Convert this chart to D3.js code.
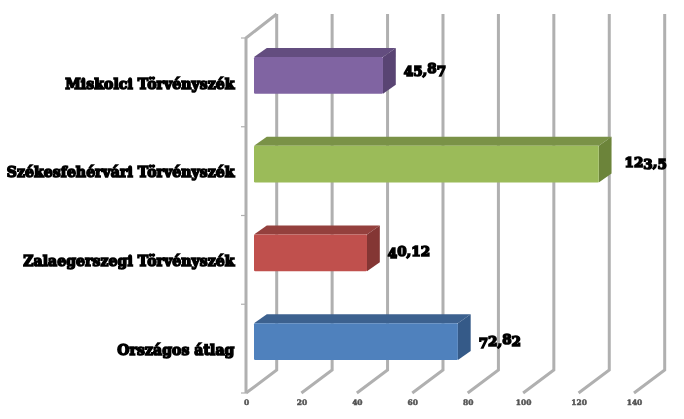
<!DOCTYPE html>
<html>
<head>
<meta charset="utf-8">
<script src="https://cdn.jsdelivr.net/npm/d3@7"></script>
<style>
  html, body { margin: 0; padding: 0; background: #fff; }
  svg { display: block; }
</style>
</head>
<body>
<div id="main"></div>
<script>
const categories = ['Országos átlag', 'Zalaegerszegi Törvényszék', 'Székesfehérvári Törvényszék', 'Miskolci Törvényszék']
const values = [72.82, 40.12, 123.5, 45.87]
const valueLabels = ['72,82', '40,12', '123,5', '45,87']
const tickValues = [0, 20, 40, 60, 80, 100, 120, 140]
const frontColors = ['#4f81bd', '#c0504d', '#9bbb59', '#8064a2']
const topColors = ['#3c618f', '#94403d', '#7a9247', '#634d7f']
const sideColors = ['#355a88', '#843634', '#6c843a', '#594473']

const WIDTH = 684, HEIGHT = 419
const DEPTH_X = 30.7                 // wall depth
const BAR_DX = 12.8, BAR_DY = 9      // bar depth
const BAR_H = 36.6, BAR_SHIFT = -7

const svg = d3.select('#main').append('svg').attr('width', WIDTH).attr('height', HEIGHT)
  .style('font-family', '"DejaVu Serif", serif')

const defs = svg.append('defs')
const soft = defs.append('filter').attr('id', 'soft').attr('x', '-5%').attr('y', '-20%').attr('width', '110%').attr('height', '140%')
soft.append('feGaussianBlur').attr('stdDeviation', 0.4)

const x = d3.scaleLinear().domain([0, 140]).range([246, 634])
const barX = d3.scaleLinear().domain([0, 140]).range([255.5, 644.6])
const y = d3.scaleBand().domain(categories.slice().reverse()).range([38, 393])

// walls
const walls = svg.append('g').attr('fill', 'none').attr('stroke', '#b0b0b0').attr('stroke-width', 3)
walls.selectAll('path.grid').data(tickValues).join('path').attr('class', 'grid')
  .attr('d', d => `M${x(d) + DEPTH_X},14V370L${x(d)},393`)
walls.append('path').attr('d', `M${x(0) + DEPTH_X},14L${x(0)},38V393`)
  .attr('stroke-linejoin', 'round')
const yTicks = y.domain().map(c => y(c)).concat([393])
walls.selectAll('line.tick').data(yTicks).join('line').attr('class', 'tick')
  .attr('x1', x(0) - 5).attr('x2', x(0)).attr('y1', d => d).attr('y2', d => d)
  .attr('stroke-width', 1.2)

// bars
const bars = svg.append('g').selectAll('g').data(categories).join('g')
const barTop = c => y(c) + y.bandwidth() / 2 + BAR_SHIFT - BAR_H / 2
const barLeft = barX(0) - 1.5
bars.append('path').attr('fill', (d, i) => topColors[i])
  .attr('d', d => `M${barLeft},${barTop(d)}l${BAR_DX},${-BAR_DY}H${barX(values[categories.indexOf(d)]) + BAR_DX}l${-BAR_DX},${BAR_DY}Z`)
bars.append('path').attr('fill', (d, i) => sideColors[i])
  .attr('d', d => {
    const r = barX(values[categories.indexOf(d)])
    return `M${r},${barTop(d)}l${BAR_DX},${-BAR_DY}v${BAR_H}l${-BAR_DX},${BAR_DY}Z`
  })
bars.append('rect').attr('fill', (d, i) => frontColors[i]).attr('rx', 1.2)
  .attr('x', barLeft).attr('y', barTop)
  .attr('width', (d, i) => barX(values[i]) - barLeft).attr('height', BAR_H)

// old style digits, like the original face
const digitShift = { 3: 1.5, 4: 1.5, 5: 1.5, 7: 1.5, 9: 1.5, 6: -2, 8: -2 }
function oldStyle(sel, str) {
  str.split('').forEach((ch, i) => {
    const prev = digitShift[str[i - 1]] || 0
    const cur = digitShift[ch] || 0
    sel.append('tspan').attr('dy', cur - prev).text(ch)
  })
}

// category labels
svg.append('g').selectAll('text').data(categories).join('text')
  .attr('x', 234.5).attr('y', d => y(d) + y.bandwidth() / 2 + 6.2)
  .attr('text-anchor', 'end').attr('font-size', 14).attr('font-weight', 700)
  .attr('letter-spacing', 0.08)
  .attr('stroke', '#000').attr('stroke-width', 1.5).attr('fill', '#000')
  .attr('filter', 'url(#soft)')
  .text(d => d)

// value labels
const labelDx = [0, 0, 5, 0]
const labelDy = [-2.5, -3.5, -4, -7.5]
svg.append('g').selectAll('text').data(valueLabels).join('text')
  .attr('x', (d, i) => barX(values[i]) + BAR_DX + 8 + labelDx[i])
  .attr('y', (d, i) => y(categories[i]) + y.bandwidth() / 2 + labelDy[i])
  .attr('font-size', 13.5).attr('font-weight', 700)
  .attr('stroke', '#000').attr('stroke-width', 1.5).attr('fill', '#000')
  .attr('filter', 'url(#soft)')
  .each(function (d) { oldStyle(d3.select(this), d) })

// value axis labels
const axis = svg.append('g').attr('transform', 'translate(0,400)')
  .call(d3.axisBottom(x).tickValues(tickValues).tickSize(0).tickPadding(0))
axis.select('.domain').remove()
axis.selectAll('text').attr('font-family', '"DejaVu Serif", serif').attr('font-size', 7.5)
  .attr('font-weight', 700).attr('fill', '#555').attr('stroke', '#555').attr('stroke-width', 0.5)
  .attr('filter', 'url(#soft)')
</script>
</body>
</html>
